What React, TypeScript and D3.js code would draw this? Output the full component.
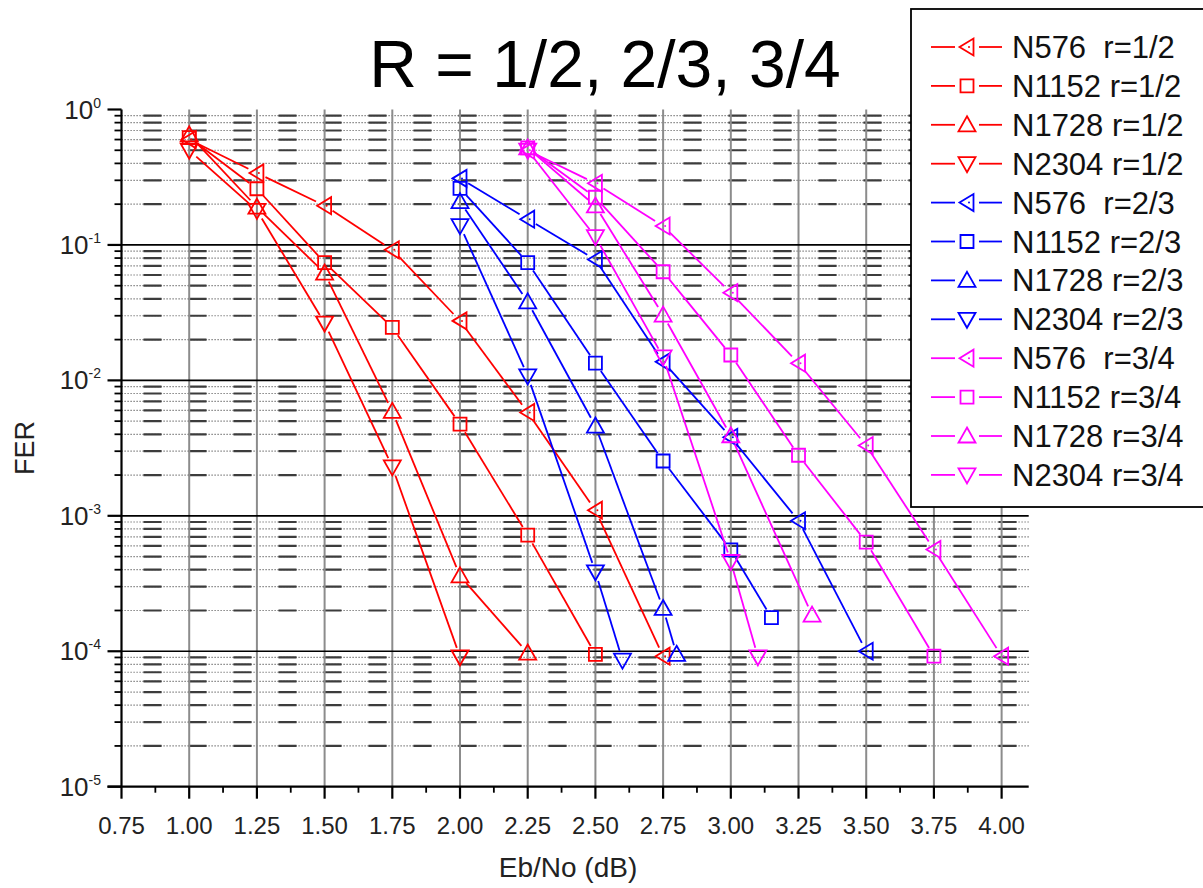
import React, { useEffect, useRef } from 'react'
import * as d3 from 'd3'

// Eb/No (dB) points and FER, rate 1/2
const ebnoN576r12 = [1.0, 1.25, 1.5, 1.75, 2.0, 2.25, 2.5, 2.75]
const ferN576r12 = [0.6, 0.34, 0.195, 0.092, 0.0275, 0.0058, 0.0011, 9.2e-5]
const ebnoN1152r12 = [1.0, 1.25, 1.5, 1.75, 2.0, 2.25, 2.5]
const ferN1152r12 = [0.62, 0.26, 0.074, 0.0246, 0.00475, 0.00072, 9.5e-5]
const ebnoN1728r12 = [1.0, 1.25, 1.5, 1.75, 2.0, 2.25]
const ferN1728r12 = [0.65, 0.19, 0.062, 0.0059, 0.00036, 9.7e-5]
const ebnoN2304r12 = [1.0, 1.25, 1.5, 1.75, 2.0]
const ferN2304r12 = [0.5, 0.18, 0.0265, 0.0023, 9.1e-5]

// rate 2/3
const ebnoN576r23 = [2.0, 2.25, 2.5, 2.75, 3.0, 3.25, 3.5]
const ferN576r23 = [0.31, 0.155, 0.078, 0.0137, 0.0038, 0.00092, 1.0e-4]
const ebnoN1152r23 = [2.0, 2.25, 2.5, 2.75, 3.0, 3.15]
const ferN1152r23 = [0.262, 0.074, 0.0134, 0.00254, 0.00056, 0.000177]
const ebnoN1728r23 = [2.0, 2.25, 2.5, 2.75, 2.8]
const ferN1728r23 = [0.209, 0.038, 0.0046, 0.000207, 9.5e-5]
const ebnoN2304r23 = [2.0, 2.25, 2.5, 2.6]
const ferN2304r23 = [0.139, 0.0108, 0.000386, 8.6e-5]

// rate 3/4
const ebnoN576r34 = [2.25, 2.5, 2.75, 3.0, 3.25, 3.5, 3.75, 4.0]
const ferN576r34 = [0.5, 0.285, 0.138, 0.0444, 0.0134, 0.0033, 0.000565, 9.2e-5]
const ebnoN1152r34 = [2.25, 2.5, 2.75, 3.0, 3.25, 3.5, 3.75]
const ferN1152r34 = [0.52, 0.225, 0.0634, 0.0154, 0.0028, 0.00064, 9.2e-5]
const ebnoN1728r34 = [2.25, 2.5, 2.75, 3.0, 3.3]
const ferN1728r34 = [0.52, 0.194, 0.0303, 0.0039, 0.000185]
const ebnoN2304r34 = [2.25, 2.5, 2.75, 3.0, 3.1]
const ferN2304r34 = [0.5, 0.115, 0.0149, 0.00046, 9.1e-5]

const xTicks = [0.75, 1.0, 1.25, 1.5, 1.75, 2.0, 2.25, 2.5, 2.75, 3.0, 3.25, 3.5, 3.75, 4.0]
const yExponents = [0, -1, -2, -3, -4, -5]

const RED = '#ff0000'
const BLUE = '#0000ff'
const MAGENTA = '#ff00ff'

type Shape = 'left' | 'square' | 'up' | 'down'

const series: { name: string; color: string; shape: Shape; x: number[]; y: number[] }[] = [
  { name: 'N576  r=1/2', color: RED, shape: 'left', x: ebnoN576r12, y: ferN576r12 },
  { name: 'N1152 r=1/2', color: RED, shape: 'square', x: ebnoN1152r12, y: ferN1152r12 },
  { name: 'N1728 r=1/2', color: RED, shape: 'up', x: ebnoN1728r12, y: ferN1728r12 },
  { name: 'N2304 r=1/2', color: RED, shape: 'down', x: ebnoN2304r12, y: ferN2304r12 },
  { name: 'N576  r=2/3', color: BLUE, shape: 'left', x: ebnoN576r23, y: ferN576r23 },
  { name: 'N1152 r=2/3', color: BLUE, shape: 'square', x: ebnoN1152r23, y: ferN1152r23 },
  { name: 'N1728 r=2/3', color: BLUE, shape: 'up', x: ebnoN1728r23, y: ferN1728r23 },
  { name: 'N2304 r=2/3', color: BLUE, shape: 'down', x: ebnoN2304r23, y: ferN2304r23 },
  { name: 'N576  r=3/4', color: MAGENTA, shape: 'left', x: ebnoN576r34, y: ferN576r34 },
  { name: 'N1152 r=3/4', color: MAGENTA, shape: 'square', x: ebnoN1152r34, y: ferN1152r34 },
  { name: 'N1728 r=3/4', color: MAGENTA, shape: 'up', x: ebnoN1728r34, y: ferN1728r34 },
  { name: 'N2304 r=3/4', color: MAGENTA, shape: 'down', x: ebnoN2304r34, y: ferN2304r34 },
]

const FONT = "Arial, 'Liberation Sans', sans-serif"

// hollow marker outline centred on 0,0
const markerPath = (shape: Shape) => {
  switch (shape) {
    case 'left':
      return 'M-7.5,0L6.5,-8.5L6.5,8.5Z'
    case 'square':
      return 'M-6.5,-6.5H6.5V6.5H-6.5Z'
    case 'up':
      return 'M0,-8.5L8.5,6.5L-8.5,6.5Z'
    default:
      return 'M0,8.5L8.5,-6.5L-8.5,-6.5Z'
  }
}

const drawMarker = (g: any, shape: Shape, color: string, cx: number, cy: number) => {
  g.append('path')
    .attr('d', markerPath(shape))
    .attr('transform', `translate(${cx},${cy})`)
    .attr('fill', 'none')
    .attr('stroke', color)
    .attr('stroke-width', 1.8)
  if (shape === 'left') {
    g.append('circle').attr('cx', cx + 2).attr('cy', cy).attr('r', 1).attr('fill', color)
  }
}

function FerChart() {
  const ref = useRef<SVGSVGElement>(null)

  useEffect(() => {
    const svg = d3.select(ref.current)
    svg.selectAll('*').remove()

    const left = 121.5
    const right = 1028.7
    const top = 109.5
    const bottom = 786.7

    const x = d3.scaleLinear().domain([0.75, 4.1]).range([left, right])
    const y = d3.scaleLog().domain([1e-5, 1]).range([bottom, top])

    svg.append('rect').attr('width', 1203).attr('height', 888).attr('fill', '#fff')

    // minor horizontal grid (2..9 per decade): thin dots plus heavier dashes
    const grid = svg.append('g')
    const minorVals: number[] = []
    for (let e = -5; e < 0; e++) {
      for (let k = 2; k <= 9; k++) minorVals.push(k * Math.pow(10, e))
    }
    grid.selectAll('.minorDots')
      .data(minorVals)
      .enter().append('line')
      .attr('x1', left).attr('x2', right)
      .attr('y1', d => y(d)).attr('y2', d => y(d))
      .attr('stroke', '#666')
      .attr('stroke-width', 1.2)
      .attr('stroke-dasharray', '1.2,1.8')
    grid.selectAll('.minorDash')
      .data(minorVals)
      .enter().append('line')
      .attr('x1', left).attr('x2', right)
      .attr('y1', d => y(d)).attr('y2', d => y(d))
      .attr('stroke', '#3c3c3c')
      .attr('stroke-width', 2.2)
      .attr('stroke-dashoffset', -22)
      .attr('stroke-dasharray', '18,27')

    // vertical grid at major x ticks
    grid.selectAll('.vgrid')
      .data(xTicks.slice(1))
      .enter().append('line')
      .attr('x1', d => x(d)).attr('x2', d => x(d))
      .attr('y1', top).attr('y2', bottom)
      .attr('stroke', '#8c8c8c')
      .attr('stroke-width', 2)

    // major horizontal grid at decades
    grid.selectAll('.major')
      .data([1e-1, 1e-2, 1e-3, 1e-4])
      .enter().append('line')
      .attr('x1', left).attr('x2', right)
      .attr('y1', d => y(d)).attr('y2', d => y(d))
      .attr('stroke', '#000')
      .attr('stroke-width', 1.7)

    // series: segments stop short of the markers
    const gap = 9.5
    series.forEach(s => {
      const g = svg.append('g')
      const pts = s.x.map((v, i) => [x(v), y(s.y[i])])
      for (let i = 0; i < pts.length - 1; i++) {
        const [x0, y0] = pts[i]
        const [x1, y1] = pts[i + 1]
        const len = Math.hypot(x1 - x0, y1 - y0)
        if (len <= gap * 2) continue
        const ux = (x1 - x0) / len
        const uy = (y1 - y0) / len
        g.append('line')
          .attr('x1', x0 + ux * gap).attr('y1', y0 + uy * gap)
          .attr('x2', x1 - ux * gap).attr('y2', y1 - uy * gap)
          .attr('stroke', s.color)
          .attr('stroke-width', 1.8)
      }
      pts.forEach(([px, py]) => drawMarker(g, s.shape, s.color, px, py))
    })

    // axes
    const axes = svg.append('g').attr('stroke', '#000')
    axes.append('line')
      .attr('x1', left).attr('x2', left).attr('y1', top).attr('y2', bottom)
      .attr('stroke-width', 2.2)
    axes.append('line')
      .attr('x1', left - 14).attr('x2', right).attr('y1', bottom).attr('y2', bottom)
      .attr('stroke-width', 2.2)

    // y ticks
    yExponents.forEach(e => {
      axes.append('line')
        .attr('x1', left - 14).attr('x2', left)
        .attr('y1', y(Math.pow(10, e))).attr('y2', y(Math.pow(10, e)))
        .attr('stroke-width', 2.2)
    })
    axes.selectAll('.ymin')
      .data(minorVals)
      .enter().append('line')
      .attr('x1', left - 7).attr('x2', left)
      .attr('y1', d => y(d)).attr('y2', d => y(d))
      .attr('stroke-width', 1.8)

    // x ticks
    axes.selectAll('.xmaj')
      .data(xTicks)
      .enter().append('line')
      .attr('x1', d => x(d)).attr('x2', d => x(d))
      .attr('y1', bottom).attr('y2', bottom + 12)
      .attr('stroke-width', 2.2)
    axes.selectAll('.xmin')
      .data(xTicks.slice(0, -1).map(d => d + 0.125))
      .enter().append('line')
      .attr('x1', d => x(d)).attr('x2', d => x(d))
      .attr('y1', bottom).attr('y2', bottom + 6)
      .attr('stroke-width', 1.8)

    // tick labels
    svg.selectAll('.xlab')
      .data(xTicks)
      .enter().append('text')
      .attr('x', d => x(d))
      .attr('y', bottom + 47)
      .attr('text-anchor', 'middle')
      .style('font-family', FONT)
      .style('font-size', '24px')
      .attr('fill', '#222')
      .text(d => d.toFixed(2))

    yExponents.forEach(e => {
      const t = svg.append('text')
        .attr('x', 101)
        .attr('y', y(Math.pow(10, e)) + 9)
        .attr('text-anchor', 'end')
        .style('font-family', FONT)
        .style('font-size', '26px')
        .attr('fill', '#222')
      t.append('tspan').text('10')
      t.append('tspan')
        .attr('dy', -11)
        .style('font-size', '14px')
        .text(String(e))
    })

    // axis titles
    svg.append('text')
      .attr('transform', `translate(34,${(top + bottom) / 2}) rotate(-90)`)
      .attr('text-anchor', 'middle')
      .style('font-family', FONT)
      .style('font-size', '27px')
      .attr('fill', '#222')
      .text('FER')

    svg.append('text')
      .attr('x', 568)
      .attr('y', 877)
      .attr('text-anchor', 'middle')
      .style('font-family', FONT)
      .style('font-size', '28px')
      .attr('fill', '#222')
      .text('Eb/No (dB)')

    svg.append('text')
      .attr('x', 605)
      .attr('y', 87)
      .attr('text-anchor', 'middle')
      .style('font-family', FONT)
      .style('font-size', '66px')
      .attr('fill', '#000')
      .text('R = 1/2, 2/3, 3/4')

    // legend
    const lg = svg.append('g')
    lg.append('rect')
      .attr('x', 911).attr('y', 9)
      .attr('width', 300).attr('height', 498)
      .attr('fill', '#fff')
      .attr('stroke', '#000')
      .attr('stroke-width', 1.8)
    series.forEach((s, i) => {
      const cy = 47 + i * 38.9
      lg.append('line').attr('x1', 931).attr('x2', 955).attr('y1', cy).attr('y2', cy)
        .attr('stroke', s.color).attr('stroke-width', 1.8)
      lg.append('line').attr('x1', 979).attr('x2', 1002).attr('y1', cy).attr('y2', cy)
        .attr('stroke', s.color).attr('stroke-width', 1.8)
      drawMarker(lg, s.shape, s.color, 967, cy)
      lg.append('text')
        .attr('x', 1012)
        .attr('y', cy + 11)
        .attr('xml:space', 'preserve')
        .style('white-space', 'pre')
        .style('font-family', FONT)
        .style('font-size', '31px')
        .attr('fill', '#111')
        .text(s.name)
    })
  }, [])

  return <svg ref={ref} width={1203} height={888} style={{ position: 'absolute', left: 0, top: 0 }} />
}

export default function App() {
  return <FerChart />
}
